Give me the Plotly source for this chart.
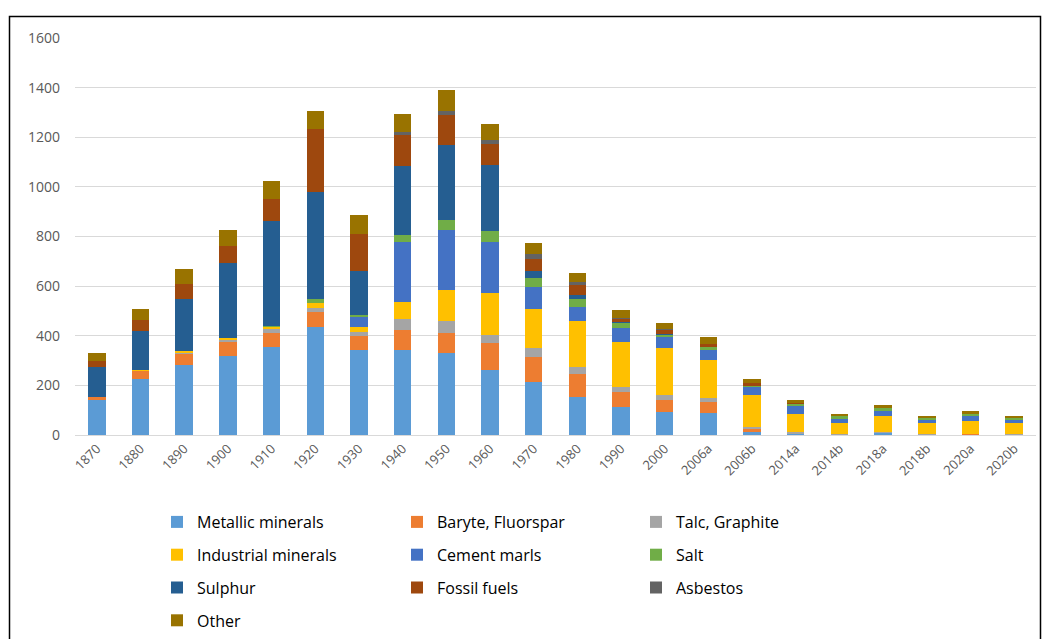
import plotly.graph_objects as go

categories = ["1870", "1880", "1890", "1900", "1910", "1920", "1930", "1940", "1950", "1960",
              "1970", "1980", "1990", "2000", "2006a", "2006b", "2014a", "2014b", "2018a",
              "2018b", "2020a", "2020b"]

metallic   = [141, 225, 282, 319, 354, 435, 341, 342, 329, 264, 212, 152, 111, 94, 90, 13, 8, 2, 9, 2, 0, 2]
baryte     = [14, 35, 48, 54, 56, 59, 59, 83, 83, 105, 101, 94, 63, 47, 44, 12, 0, 0, 0, 0, 4, 0]
talc       = [0, 0, 4, 10, 18, 17, 17, 41, 47, 36, 36, 29, 21, 20, 14, 6, 4, 2, 2, 2, 0, 2]
industrial = [0, 3, 4, 7, 8, 23, 20, 71, 125, 168, 157, 184, 181, 188, 154, 130, 73, 43, 66, 43, 54, 43]
cement     = [0, 0, 0, 0, 0, 0, 38, 239, 241, 203, 89, 58, 57, 47, 43, 34, 35, 19, 18, 16, 19, 16]
salt       = [0, 0, 0, 0, 5, 15, 10, 32, 41, 47, 36, 31, 19, 11, 8, 6, 6, 13, 16, 8, 11, 8]
sulphur    = [118, 158, 210, 303, 420, 431, 175, 275, 304, 267, 29, 18, 3, 2, 0, 0, 0, 0, 0, 0, 0, 0]
fossil     = [27, 41, 59, 70, 91, 254, 150, 125, 118, 82, 51, 38, 13, 16, 14, 7, 5, 0, 0, 0, 0, 0]
asbestos   = [0, 0, 0, 0, 0, 0, 0, 13, 16, 16, 20, 13, 3, 3, 0, 0, 0, 0, 0, 0, 0, 0]
other      = [30, 46, 61, 65, 71, 72, 76, 74, 85, 67, 41, 37, 31, 25, 29, 16, 11, 6, 8, 7, 8, 7]

series = [
    ("Metallic minerals", metallic, "#5B9BD5", "legend"),
    ("Baryte, Fluorspar", baryte, "#ED7D31", "legend2"),
    ("Talc, Graphite", talc, "#A5A5A5", "legend3"),
    ("Industrial minerals", industrial, "#FFC000", "legend"),
    ("Cement marls", cement, "#4472C4", "legend2"),
    ("Salt", salt, "#70AD47", "legend3"),
    ("Sulphur", sulphur, "#255E91", "legend"),
    ("Fossil fuels", fossil, "#9E480E", "legend2"),
    ("Asbestos", asbestos, "#636363", "legend3"),
    ("Other", other, "#997300", "legend"),
]

fig = go.Figure()
for name, vals, color, lg in series:
    fig.add_trace(go.Bar(x=categories, y=vals, name=name, marker_color=color,
                         marker_line_width=0, legend=lg, legendgroup=name))

W, H = 1045, 639
ml, mr, mt, mb = 75, 9, 38, 204
pw = W - ml - mr
ph = H - mt - mb

def px_x(p):
    return (p - ml) / pw

def px_y(p):
    return (H - mb - p) / ph

font_family = "Open Sans, Liberation Sans, sans-serif"
legend_common = dict(font=dict(family=font_family, size=16, color="#000000"),
                     bgcolor="rgba(0,0,0,0)", tracegroupgap=9,
                     xanchor="left", yanchor="top", orientation="v")

fig.update_layout(
    width=W, height=H,
    margin=dict(l=ml, r=mr, t=mt, b=mb, autoexpand=False),
    barmode="stack",
    bargap=0.6,
    plot_bgcolor="white",
    paper_bgcolor="white",
    font=dict(family=font_family, color="#595959"),
    xaxis=dict(tickangle=-45, tickfont=dict(size=13, color="#595959"),
               showgrid=False, showline=True, linecolor="#d9d9d9", linewidth=1,
               ticks="", type="category", automargin=False),
    yaxis=dict(range=[0, 1600], dtick=200, tickfont=dict(size=14, color="#595959"),
               showgrid=True, gridcolor="#d9d9d9", gridwidth=1, zeroline=False,
               ticks="", ticklabelstandoff=14, automargin=False),
    legend=dict(x=px_x(157), y=px_y(505), **legend_common),
    legend2=dict(x=px_x(397), y=px_y(505), **legend_common),
    legend3=dict(x=px_x(636), y=px_y(505), **legend_common),
    shapes=[dict(type="rect", xref="paper", yref="paper",
                 x0=px_x(9.5), x1=px_x(1040.5), y0=px_y(660), y1=px_y(16.5),
                 line=dict(color="#000000", width=1.5), fillcolor="rgba(0,0,0,0)",
                 layer="above")],
)

fig.write_html("out.html")
